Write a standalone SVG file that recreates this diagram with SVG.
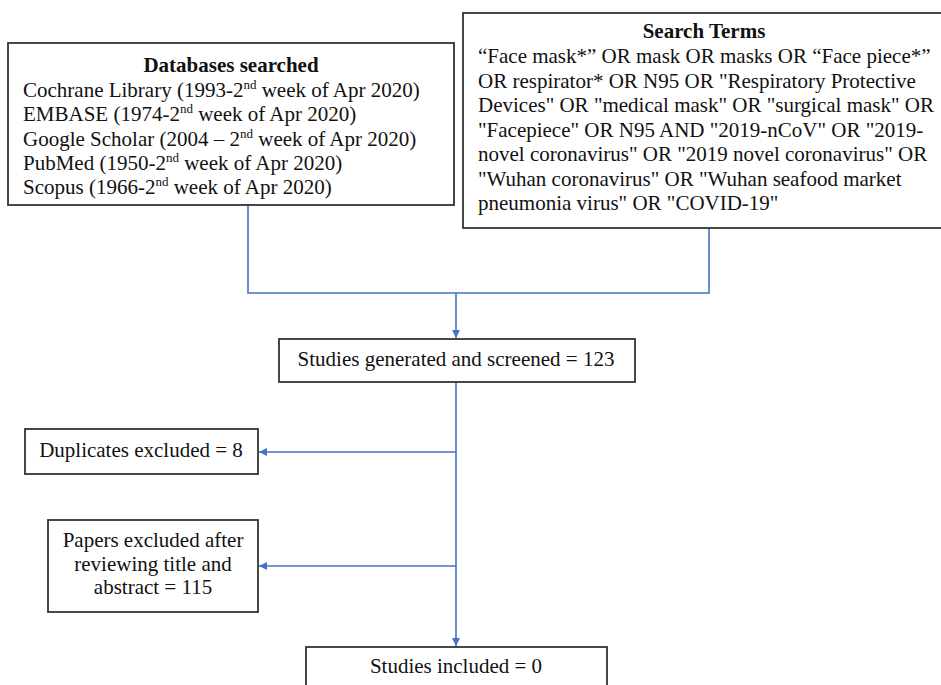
<svg xmlns="http://www.w3.org/2000/svg" width="941" height="685" viewBox="0 0 941 685">
<defs>
<style>
.box{fill:#fff;stroke:#333;stroke-width:1.8}
.t{font-family:"Liberation Serif","Times New Roman",serif;font-size:21px;fill:#111}
.b{font-weight:bold}
.c{text-anchor:middle}
.sup{font-size:13px}
.conn{fill:none;stroke:#4472C4;stroke-width:1.6}
</style>
<marker id="arr" viewBox="0 0 10 10" refX="10" refY="5" markerWidth="6" markerHeight="6" orient="auto" markerUnits="userSpaceOnUse">
<path d="M0,0 L10,5 L0,10 z" fill="#4472C4"/>
</marker>
<marker id="arrw" viewBox="0 0 10 10" refX="10" refY="5" markerWidth="8" markerHeight="8" orient="auto" markerUnits="userSpaceOnUse">
<path d="M0,0 L10,5 L0,10 z" fill="#4472C4"/>
</marker>
</defs>
<rect width="941" height="685" fill="#fff"/>

<g id="connectors">
<polyline class="conn" points="248,205 248,293 709,293 709,228"/>
<line class="conn" x1="456" y1="293" x2="456" y2="338" marker-end="url(#arrw)"/>
<line class="conn" x1="456" y1="382" x2="456" y2="646" marker-end="url(#arrw)"/>
<line class="conn" x1="456" y1="452" x2="259" y2="452" marker-end="url(#arrw)"/>
<line class="conn" x1="456" y1="566" x2="259" y2="566" marker-end="url(#arrw)"/>
</g>

<g id="databases">
<rect class="box" x="8" y="43" width="446" height="162"/>
<text class="t b c" x="231" y="72">Databases searched</text>
<text class="t" x="23" y="97">Cochrane Library (1993-2<tspan class="sup" dy="-8">nd</tspan><tspan dy="8"> week of Apr 2020)</tspan></text>
<text class="t" x="23" y="121">EMBASE (1974-2<tspan class="sup" dy="-8">nd</tspan><tspan dy="8"> week of Apr 2020)</tspan></text>
<text class="t" x="23" y="146">Google Scholar (2004 – 2<tspan class="sup" dy="-8">nd</tspan><tspan dy="8"> week of Apr 2020)</tspan></text>
<text class="t" x="23" y="170">PubMed (1950-2<tspan class="sup" dy="-8">nd</tspan><tspan dy="8"> week of Apr 2020)</tspan></text>
<text class="t" x="23" y="194">Scopus (1966-2<tspan class="sup" dy="-8">nd</tspan><tspan dy="8"> week of Apr 2020)</tspan></text>
</g>

<g id="search-terms">
<rect class="box" x="463" y="13" width="490" height="215"/>
<text class="t b c" x="704" y="38">Search Terms</text>
<text class="t" x="478" y="63">“Face mask*” OR mask OR masks OR “Face piece*”</text>
<text class="t" x="478" y="88">OR respirator* OR N95 OR "Respiratory Protective</text>
<text class="t" x="478" y="112">Devices" OR "medical mask" OR "surgical mask" OR</text>
<text class="t" x="478" y="137">"Facepiece" OR N95 AND "2019-nCoV" OR "2019-</text>
<text class="t" x="478" y="161">novel coronavirus" OR "2019 novel coronavirus" OR</text>
<text class="t" x="478" y="186">"Wuhan coronavirus" OR "Wuhan seafood market</text>
<text class="t" x="478" y="210">pneumonia virus" OR "COVID-19"</text>
</g>

<g id="screened">
<rect class="box" x="279" y="339" width="356" height="43"/>
<text class="t c" x="456" y="366">Studies generated and screened = 123</text>
</g>

<g id="duplicates">
<rect class="box" x="25" y="429" width="233" height="45"/>
<text class="t c" x="141" y="457">Duplicates excluded = 8</text>
</g>

<g id="papers-excluded">
<rect class="box" x="48" y="520" width="210" height="92"/>
<text class="t c" x="153" y="547">Papers excluded after</text>
<text class="t c" x="153" y="571">reviewing title and</text>
<text class="t c" x="153" y="594">abstract = 115</text>
</g>

<g id="included">
<rect class="box" x="306" y="647" width="301" height="50"/>
<text class="t c" x="456" y="673">Studies included = 0</text>
</g>
</svg>
